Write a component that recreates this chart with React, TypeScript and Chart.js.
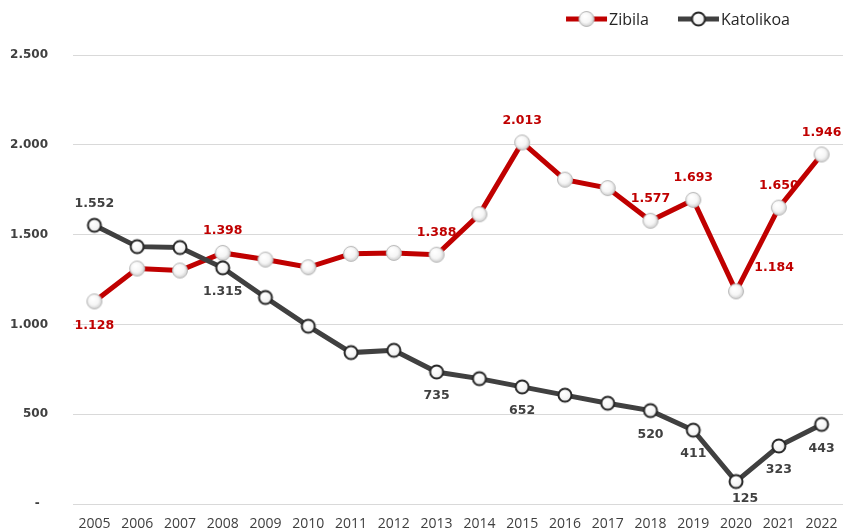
import React, { useEffect, useRef } from "react";
import { Chart, registerables } from "chart.js";

Chart.register(...registerables);

// ---- data ----
const years = [
  "2005", "2006", "2007", "2008", "2009", "2010", "2011", "2012", "2013",
  "2014", "2015", "2016", "2017", "2018", "2019", "2020", "2021", "2022",
];
const zibila = [
  1128, 1311, 1300, 1398, 1361, 1318, 1393, 1398, 1388,
  1613, 2013, 1806, 1759, 1577, 1693, 1184, 1650, 1946,
];
const katolikoa = [
  1552, 1433, 1428, 1315, 1150, 990, 843, 856, 735,
  698, 652, 606, 561, 520, 411, 125, 323, 443,
];
const seriesNames = ["Zibila", "Katolikoa"];
const labelledIndexes = [0, 3, 8, 10, 13, 14, 15, 16, 17];
const yTicks = [0, 500, 1000, 1500, 2000, 2500];

// ---- styling ----
const RED = "#C00000";
const DARK = "#404040";
const TEXT = "#404040";
const LABEL_FONT = "bold 12.5px 'DejaVu Sans', Verdana, sans-serif";

// label placement per dataset: default + exceptions (index -> placement)
const placements: Array<{ def: string; except: Record<number, string> }> = [
  { def: "above", except: { 0: "below", 15: "aboveRight" } },
  { def: "below", except: { 0: "above", 15: "belowRight" } },
];
const offsets: Record<string, [number, number]> = {
  above: [0, -22],
  below: [0, 24],
  aboveRight: [38, -24],
  belowRight: [9, 17],
};

function fmt(n: number): string {
  if (n === 0) return "-  ";
  return String(Math.round(n)).replace(/\B(?=(\d{3})+(?!\d))/g, ".");
}

function makeMarker(kind: "red" | "dark"): HTMLCanvasElement {
  const c = document.createElement("canvas");
  c.width = 20;
  c.height = 20;
  const ctx = c.getContext("2d")!;
  const r = kind === "red" ? 7.5 : 6.5;
  const g = ctx.createRadialGradient(8, 7, 1, 10, 10, r + 1);
  g.addColorStop(0, "#ffffff");
  g.addColorStop(0.55, "#f6f6f6");
  g.addColorStop(1, kind === "red" ? "#c4c4c4" : "#e2e2e2");
  ctx.beginPath();
  ctx.arc(10, 10, r, 0, Math.PI * 2);
  ctx.fillStyle = g;
  ctx.fill();
  if (kind === "red") {
    ctx.strokeStyle = "#b8b8b8";
    ctx.lineWidth = 1;
  } else {
    ctx.strokeStyle = "#262626";
    ctx.lineWidth = 2;
  }
  ctx.stroke();
  return c;
}

const dataLabelPlugin = {
  id: "dataLabelsCustom",
  beforeDatasetsDraw(chart: any) {
    const ctx = chart.ctx;
    ctx.save();
    ctx.font = LABEL_FONT;
    ctx.textAlign = "center";
    ctx.textBaseline = "middle";
    chart.data.datasets.forEach((ds: any, di: number) => {
      const meta = chart.getDatasetMeta(di);
      ctx.fillStyle = di === 0 ? RED : TEXT;
      labelledIndexes.forEach((idx) => {
        const pt = meta.data[idx];
        if (!pt) return;
        const pl = placements[di].except[idx] || placements[di].def;
        const [dx, dy] = offsets[pl];
        ctx.fillText(fmt(ds.data[idx]), pt.x + dx, pt.y + dy);
      });
    });
    ctx.restore();
  },
};

function makeLegendPlugin(markers: HTMLCanvasElement[]) {
  return {
    id: "lineLegend",
    afterDraw(chart: any) {
      const ctx = chart.ctx;
      ctx.save();
      ctx.font = "16px 'Open Sans', sans-serif";
      ctx.textBaseline = "middle";
      ctx.textAlign = "left";
      const lineLen = 41;
      const gapText = 2;
      const gapItems = 29;
      const widths = chart.data.datasets.map(
        (ds: any) => lineLen + gapText + ctx.measureText(ds.label).width
      );
      const total =
        widths.reduce((a: number, b: number) => a + b, 0) +
        gapItems * (widths.length - 1);
      let x = chart.width - 53 - total;
      const y = 19;
      chart.data.datasets.forEach((ds: any, i: number) => {
        ctx.strokeStyle = ds.borderColor;
        ctx.lineWidth = 5;
        ctx.beginPath();
        ctx.moveTo(x, y);
        ctx.lineTo(x + lineLen, y);
        ctx.stroke();
        const m = markers[i];
        if (m) ctx.drawImage(m, x + lineLen / 2 - m.width / 2, y - m.height / 2);
        ctx.fillStyle = "#262626";
        ctx.fillText(ds.label, x + lineLen + gapText, y + 1);
        x += widths[i] + gapItems;
      });
      ctx.restore();
    },
  };
}

export default function App() {
  const ref = useRef<HTMLCanvasElement | null>(null);

  useEffect(() => {
    document.body.style.margin = "0";
    const canvas = ref.current!;
    const redMarker = makeMarker("red");
    const darkMarker = makeMarker("dark");

    const chart: any = new Chart(canvas, {
      type: "line",
      data: {
        labels: years,
        datasets: [
          {
            label: seriesNames[0],
            data: zibila,
            borderColor: RED,
            backgroundColor: RED,
            borderWidth: 5,
            pointStyle: redMarker as any,
            pointRadius: 8,
            tension: 0,
            order: 1,
          },
          {
            label: seriesNames[1],
            data: katolikoa,
            borderColor: DARK,
            backgroundColor: DARK,
            borderWidth: 5,
            pointStyle: darkMarker as any,
            pointRadius: 7,
            tension: 0,
            order: 0,
          },
        ],
      },
      options: {
        responsive: false,
        animation: false,
        devicePixelRatio: 1,
        layout: { autoPadding: false, padding: { top: 55, right: -3, left: 0, bottom: 0 } },
        plugins: {
          legend: { display: false },
          tooltip: { enabled: false },
        },
        scales: {
          x: {
            offset: true,
            grid: { display: false },
            border: { display: false },
            ticks: {
              color: TEXT,
              font: { family: "'Open Sans', sans-serif", size: 14 },
              padding: 4,
              maxRotation: 0,
              autoSkip: false,
            },
            afterFit(scale: any) {
              scale.height = 25;
              scale.paddingLeft = 0;
              scale.paddingRight = 0;
            },
          },
          y: {
            min: 0,
            max: 2500,
            afterBuildTicks(scale: any) {
              scale.ticks = yTicks.map((v) => ({ value: v }));
            },
            grid: { color: "#d9d9d9", lineWidth: 1, drawTicks: false },
            border: { display: false },
            ticks: {
              color: TEXT,
              font: { family: "'DejaVu Sans', Verdana, sans-serif", size: 12, weight: "bold" },
              padding: 25,
              callback: (v: any) => fmt(Number(v)),
            },
            afterFit(scale: any) {
              scale.width = 73;
              scale.paddingTop = 0;
              scale.paddingBottom = 0;
            },
          },
        },
      },
      plugins: [dataLabelPlugin, makeLegendPlugin([redMarker, darkMarker])],
    });

    return () => chart.destroy();
  }, []);

  return (
    <div style={{ width: 843, height: 529 }}>
      <canvas ref={ref} width={843} height={529} style={{ display: "block" }} />
    </div>
  );
}
